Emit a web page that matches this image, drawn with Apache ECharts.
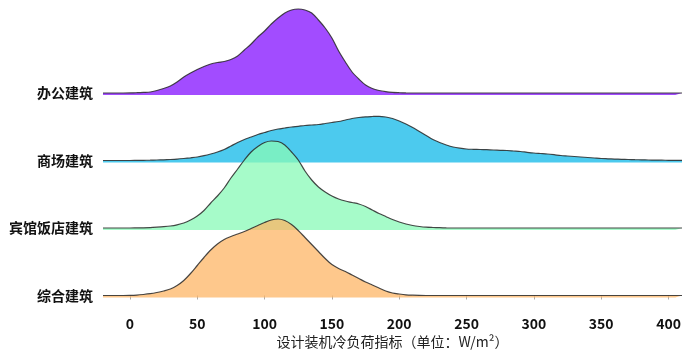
<!DOCTYPE html>
<html>
<head>
<meta charset="utf-8">
<script src="https://cdn.jsdelivr.net/npm/echarts@6/dist/echarts.min.js"></script>
<style>
html, body { margin: 0; padding: 0; background: #fff; }
#main { width: 682px; height: 350px; }
</style>
</head>
<body>
<div id="main"></div>
<script>
var categories = ['办公建筑', '商场建筑', '宾馆饭店建筑', '综合建筑'];
var xTicks = [0, 50, 100, 150, 200, 250, 300, 350, 400];
// sample points of the load index (W/m2)
var loadValues = [
    -20, -15, -10, -5, 0, 5, 10, 15, 20, 25,
    30, 35, 40, 45, 50, 55, 60, 65, 70, 75,
    80, 85, 90, 95, 100, 105, 110, 115, 120, 125,
    130, 135, 140, 145, 150, 155, 160, 165, 170, 175,
    180, 185, 190, 195, 200, 205, 210, 215, 220, 225,
    230, 235, 240, 245, 250, 255, 260, 265, 270, 275,
    280, 285, 290, 295, 300, 305, 310, 315, 320, 325,
    330, 335, 340, 345, 350, 355, 360, 365, 370, 375,
    380, 385, 390, 395, 400, 405, 410];
// ridge heights
var officeDensity = [
    0, 0, 0, 0, 0.1, 0.3, 0.6, 1, 2.5, 4.5,
    7, 11, 16, 20, 23.5, 26.5, 29, 30.5, 31.5, 33.5,
    37, 43, 49, 56, 62, 69, 75, 80, 83, 84,
    83, 80, 73, 65, 55, 42, 31, 21, 14, 8,
    4.5, 2.5, 1.3, 0.6, 0.3, 0.1, 0, 0, 0, 0,
    0, 0, 0, 0, 0, 0, 0, 0, 0, 0,
    0, 0, 0, 0, 0, 0, 0, 0, 0, 0,
    0, 0, 0, 0, 0, 0, 0, 0, 0, 0,
    0, 0, 0, 0, 0, 0, 0];
var mallDensity = [
    0, 0, 0, 0, 0, 0.1, 0.2, 0.3, 0.5, 0.7,
    1, 1.4, 2, 2.7, 3.5, 4.8, 6.5, 8.5, 11, 14.5,
    18, 21, 23.5, 26, 28, 30, 31.5, 32.5, 33.5, 34.2,
    35, 35.5, 36, 37, 38, 39, 40.5, 42, 43, 43.7,
    44, 44.2, 43.5, 42, 39.5, 36.5, 33, 29, 25, 21,
    18, 15.5, 13.5, 12.3, 11.5, 11.2, 11, 10.8, 10.5, 10.2,
    10, 9.5, 9, 8.2, 7.5, 7, 6.5, 5.8, 5, 4.5,
    4, 3.5, 3, 2.5, 2, 1.7, 1.4, 1.2, 1, 0.8,
    0.7, 0.5, 0.4, 0.3, 0.2, 0.15, 0.1];
var hotelDensity = [
    0, 0, 0, 0, 0, 0.1, 0.2, 0.4, 0.8, 1.3,
    2, 3.2, 5, 8, 12, 17.5, 25, 32, 40, 50,
    59, 68, 76, 81.5, 85.5, 87, 86.5, 83, 76, 68,
    57, 48, 41, 36, 32, 29, 27, 25.5, 24, 21.5,
    18, 14.5, 11.5, 8.5, 6, 4, 2.5, 1.5, 0.8, 0.5,
    0.3, 0.1, 0, 0, 0, 0, 0, 0, 0, 0,
    0, 0, 0, 0, 0, 0, 0, 0, 0, 0,
    0, 0, 0, 0, 0, 0, 0, 0, 0, 0,
    0, 0, 0, 0, 0, 0, 0];
var complexDensity = [
    0, 0, 0, 0, 0.1, 0.4, 1, 1.8, 3, 4.5,
    6.5, 10, 15, 22, 30, 38, 45.5, 51.5, 56, 59,
    61.5, 64, 67, 70, 73, 75.5, 76.5, 75, 71, 65,
    58, 51, 44, 37, 31, 27, 24, 20.5, 17, 13.5,
    10.5, 7.5, 4.5, 2.5, 1.5, 0.7, 0.3, 0.1, 0, 0,
    0, 0, 0, 0, 0, 0, 0, 0, 0, 0,
    0, 0, 0, 0, 0, 0, 0, 0, 0, 0,
    0, 0, 0, 0, 0, 0, 0, 0, 0, 0,
    0, 0, 0, 0, 0, 0, 0];

var densities = [officeDensity, mallDensity, hotelDensity, complexDensity];
var colors = ['rgb(131,16,255)', 'rgb(16,184,232)', 'rgb(136,250,183)', 'rgb(254,182,101)'];
var baselines = [93, 160.5, 228, 295.5];

var chart = echarts.init(document.getElementById('main'));
var grids = [], xAxes = [], yAxes = [], series = [];

categories.forEach(function (name, i) {
    var last = i === categories.length - 1;
    grids.push({
        left: 103,
        right: 0,
        top: baselines[i] - 90,
        height: 92,
        outerBoundsMode: 'none'
    });
    xAxes.push({
        gridIndex: i,
        type: 'value',
        min: -20,
        max: 410,
        show: last,
        offset: 11,
        splitLine: { show: false },
        axisLine: { show: false },
        axisTick: { show: true, length: 4, customValues: xTicks, lineStyle: { color: '#aaa' } },
        axisLabel: { customValues: xTicks, margin: 8, fontSize: 14, fontWeight: 'bold', color: '#111' },
        name: last ? '设计装机冷负荷指标（单位：W/m²）' : '',
        nameLocation: 'middle',
        nameGap: 26,
        nameTextStyle: { fontSize: 14, color: '#222' }
    });
    yAxes.push({
        gridIndex: i,
        type: 'value',
        min: -2,
        max: 90,
        splitLine: { show: false },
        axisLine: { show: false },
        axisTick: { show: false },
        axisLabel: {
            customValues: [0],
            margin: 10,
            fontSize: 14,
            fontWeight: 'bold',
            color: '#111',
            formatter: function () { return name; }
        }
    });
    series.push({
        name: name,
        type: 'line',
        xAxisIndex: i,
        yAxisIndex: i,
        smooth: 0.3,
        symbol: 'none',
        data: loadValues.map(function (x, k) { return [x, densities[i][k]]; }),
        lineStyle: { color: 'rgba(40,40,40,0.85)', width: 1.2 },
        areaStyle: { color: colors[i], opacity: 0.75, origin: 'start' }
    });
});

var option = {
    animation: false,
    textStyle: { fontFamily: 'Noto Sans CJK SC' },
    grid: grids,
    xAxis: xAxes,
    yAxis: yAxes,
    series: series
};

option && chart.setOption(option);

window.addEventListener('resize', function () {
    chart.resize();
});
</script>
</body>
</html>
